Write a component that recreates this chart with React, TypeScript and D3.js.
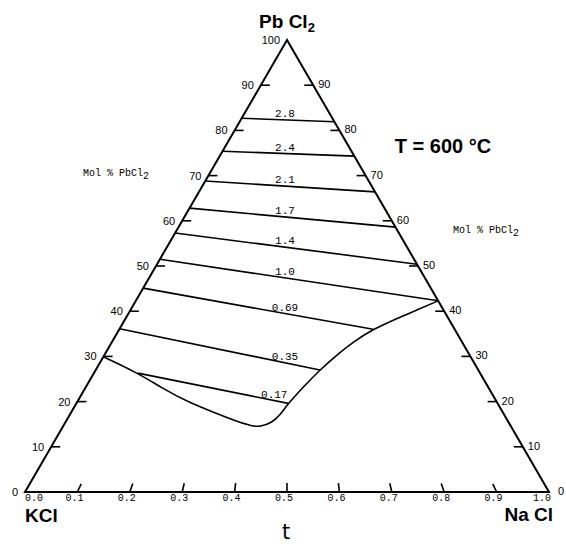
import React from "react";
import * as d3 from "d3";

// Isothermal section PbCl2 – KCl – NaCl at 600 °C.
// Compositions: mol % PbCl2 and t = NaCl / (NaCl + KCl).

// Tie lines, labelled with their value
const tieLabels = ["2.8", "2.4", "2.1", "1.7", "1.4", "1.0", "0.69", "0.35", "0.17"];
const tieStartPb = [82.7, 75.4, 68.8, 62.8, 57.3, 51.5, 45.1, 36.1, 26.3];
const tieStartT = [0, 0, 0, 0, 0, 0, 0, 0, 0.114];
const tieEndPb = [81.9, 74.3, 66.4, 58.6, 50.4, 42.3, 36.0, 27.0, 19.6];
const tieEndT = [1, 1, 1, 1, 1, 1, 0.757, 0.586, 0.503];

// Boundary of the liquid field (from NaCl side round to KCl side)
const boundaryPb = [42.3, 39.9, 38.05, 36.0, 33.25, 30.3, 27.0, 23.3, 19.6, 17.0, 15.3, 14.45, 14.6, 15.5, 17.5, 19.9, 23.0, 26.3, 29.9];
const boundaryT = [1, 0.901, 0.8275, 0.757, 0.69, 0.636, 0.586, 0.541, 0.503, 0.484, 0.4655, 0.44, 0.421, 0.389, 0.334, 0.264, 0.19, 0.114, 0];

// Axis ticks
const sideTicks = [10, 20, 30, 40, 50, 60, 70, 80, 90];
const leftSideLabels = [0, 10, 20, 30, 40, 50, 60, 70, 80, 90, 100];
const rightSideLabels = [0, 10, 20, 30, 40, 50, 60, 70, 80, 90];
const baseTicks = [0.1, 0.2, 0.3, 0.4, 0.5, 0.6, 0.7, 0.8, 0.9];
const baseLabels = [0, 0.1, 0.2, 0.3, 0.4, 0.5, 0.6, 0.7, 0.8, 0.9, 1.0];

const WIDTH = 566;
const HEIGHT = 544;

export default function App() {
  // base axis (t at PbCl2 = 0) and height axis (mol % PbCl2)
  const xBase = d3.scaleLinear().domain([0, 1]).range([25, 549]);
  const yPb = d3.scaleLinear().domain([0, 100]).range([492, 40]);

  const proj = (pb: number, t: number): [number, number] => {
    const p = pb / 100;
    return [xBase(t * (1 - p) + p / 2), yPb(pb)];
  };

  const kcl = proj(0, 0);
  const nacl = proj(0, 1);
  const apex = proj(100, 0);

  const boundaryPts = boundaryPb.map((pb, i) => proj(pb, boundaryT[i]));
  const boundaryPath = d3
    .line<[number, number]>()
    .x((d) => d[0])
    .y((d) => d[1])
    .curve(d3.curveBasis)(boundaryPts);

  const fmtBase = d3.format(".1f");
  const ink = "#000";
  const sans = "'Liberation Sans', Arial, sans-serif";
  const mono = "'Liberation Mono', 'DejaVu Sans Mono', monospace";
  const tickLen = 9;

  return (
    <svg
      width={WIDTH}
      height={HEIGHT}
      style={{ position: "absolute", left: 0, top: 0, background: "#fff" }}
    >
      <rect width={WIDTH} height={HEIGHT} fill="#fff" />

      {/* triangle */}
      <polygon
        points={[kcl, nacl, apex].map((p) => p.join(",")).join(" ")}
        fill="none"
        stroke={ink}
        strokeWidth={2}
        strokeLinejoin="miter"
      />

      {/* side ticks */}
      {sideTicks.map((v) => {
        const [lx, ly] = proj(v, 0);
        const [rx, ry] = proj(v, 1);
        return (
          <g key={`st${v}`} stroke={ink} strokeWidth={1.6}>
            <line x1={lx} y1={ly} x2={lx + tickLen} y2={ly} />
            <line x1={rx} y1={ry} x2={rx - tickLen} y2={ry} />
          </g>
        );
      })}
      {leftSideLabels.map((v) => {
        const [lx, ly] = proj(v, 0);
        return (
          <text key={`ll${v}`} x={lx - 7} y={ly + 4} textAnchor="end" fontFamily={sans} fontSize={11} fill={ink}>
            {v}
          </text>
        );
      })}
      {rightSideLabels.map((v) => {
        const [rx, ry] = proj(v, 1);
        return (
          <text key={`rl${v}`} x={rx + (v === 0 ? 9 : 5)} y={ry + 3} textAnchor="start" fontFamily={sans} fontSize={11} fill={ink}>
            {v}
          </text>
        );
      })}

      {/* base ticks pointing to the PbCl2 corner */}
      {baseTicks.map((t) => {
        const [bx, by] = proj(0, t);
        const dx = apex[0] - bx;
        const dy = apex[1] - by;
        const len = Math.hypot(dx, dy);
        return (
          <line
            key={`bt${t}`}
            x1={bx}
            y1={by}
            x2={bx + (dx / len) * tickLen}
            y2={by + (dy / len) * tickLen}
            stroke={ink}
            strokeWidth={1.6}
          />
        );
      })}
      {baseLabels.map((t, i) => {
        const [bx] = proj(0, t);
        const first = i === 0;
        const last = i === baseLabels.length - 1;
        return (
          <text
            key={`bl${t}`}
            x={first ? bx : last ? bx + 2 : bx - 3}
            y={501}
            textAnchor={first ? "start" : last ? "end" : "middle"}
            fontFamily={mono}
            fontSize={10}
            fill={ink}
          >
            {fmtBase(t)}
          </text>
        );
      })}

      {/* liquid boundary */}
      <path d={boundaryPath ?? ""} fill="none" stroke={ink} strokeWidth={1.6} />

      {/* tie lines with their values */}
      {tieLabels.map((lab, i) => {
        const a = proj(tieStartPb[i], tieStartT[i]);
        const b = proj(tieEndPb[i], tieEndT[i]);
        const lx = Math.min(apex[0] - 2, b[0] - 14);
        const f = (lx - a[0]) / (b[0] - a[0]);
        const ly = a[1] + f * (b[1] - a[1]);
        return (
          <g key={`tie${lab}`}>
            <line x1={a[0]} y1={a[1]} x2={b[0]} y2={b[1]} stroke={ink} strokeWidth={1.6} />
            <text x={lx} y={ly - 3} textAnchor="middle" fontFamily={mono} fontSize={11} fill={ink}>
              {lab}
            </text>
          </g>
        );
      })}

      {/* component names */}
      <text x={apex[0]} y={28} textAnchor="middle" fontFamily={sans} fontWeight="bold" fontSize={19} fill={ink}>
        Pb Cl
        <tspan fontSize={13} dy={4}>2</tspan>
      </text>
      <text x={kcl[0]} y={522} textAnchor="start" fontFamily={sans} fontWeight="bold" fontSize={19} fill={ink}>
        KCl
      </text>
      <text x={nacl[0] + 4} y={521} textAnchor="end" fontFamily={sans} fontWeight="bold" fontSize={19} fill={ink}>
        Na Cl
      </text>
      <text x={apex[0] - 1} y={539} textAnchor="middle" fontFamily="'DejaVu Sans', sans-serif" fontSize={21} fill={ink}>
        t
      </text>

      {/* temperature and axis titles */}
      <text x={443} y={153} textAnchor="middle" fontFamily={sans} fontWeight="bold" fontSize={20} fill={ink}>
        T = 600 °C
      </text>
      <text x={83} y={176} fontFamily={mono} fontSize={10} fill={ink}>
        Mol % PbCl
        <tspan dy={3}>2</tspan>
      </text>
      <text x={453} y={233} fontFamily={mono} fontSize={10} fill={ink}>
        Mol % PbCl
        <tspan dy={3}>2</tspan>
      </text>
    </svg>
  );
}
